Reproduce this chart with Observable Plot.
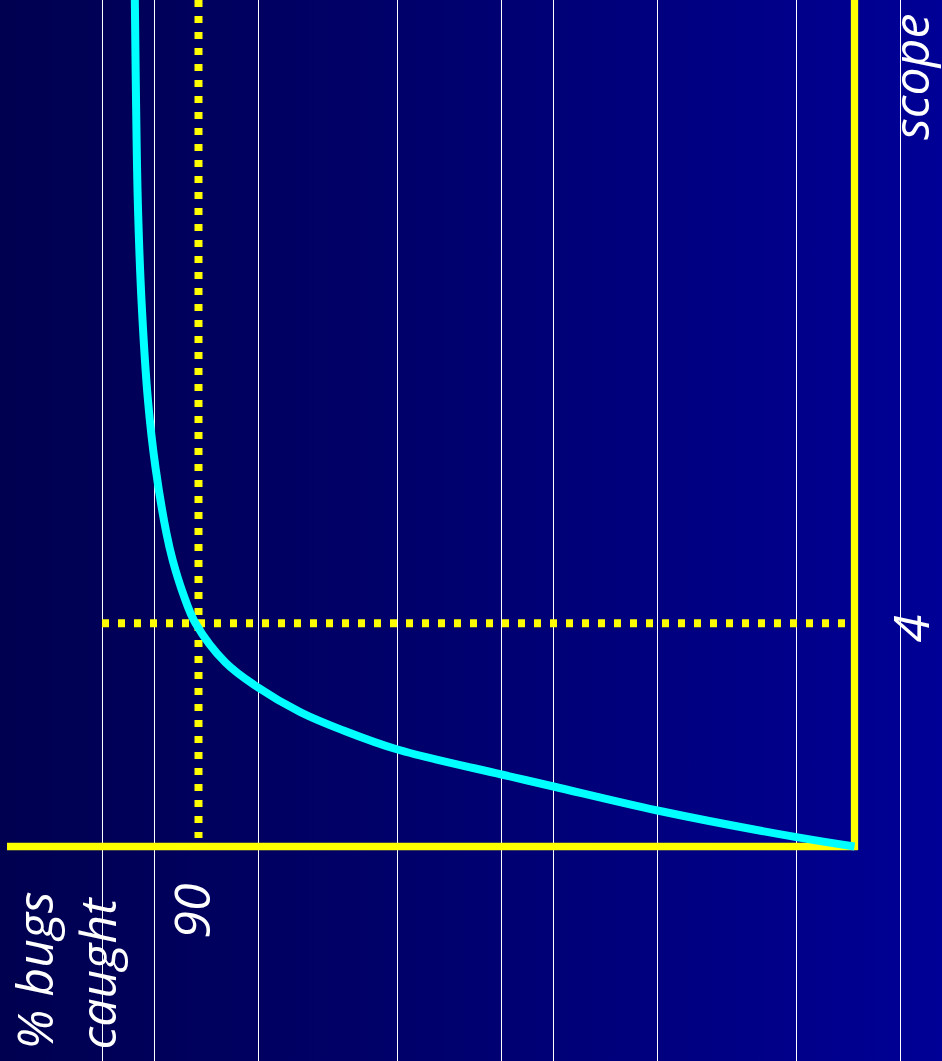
<!DOCTYPE html>
<html>
<head>
<meta charset="utf-8">
<script src="https://cdn.jsdelivr.net/npm/d3@7"></script>
<script src="https://cdn.jsdelivr.net/npm/@observablehq/plot@0.6"></script>
<style>
  html, body { margin: 0; padding: 0; background: #000050; }
  #chart { width: 942px; height: 1061px; }
</style>
</head>
<body>
<div id="chart"></div>
<script>
// Curve: scope (vertical, increasing upward) vs % bugs caught (horizontal, increasing leftward)
const scopeValues   = [0, 0.167, 0.645, 1.075, 1.290, 1.737, 2.078, 2.405, 2.866, 3.296, 4.0, 4.526, 5.123, 5.606, 6.788, 7.989, 9.780, 11.571, 13.362, 15.24];
const percentValues = [0, 7.96, 27.03, 41.30, 48.43, 62.70, 70.11, 76.0, 82.04, 86.30, 90.41, 92.10, 93.53, 94.39, 95.90, 96.93, 97.82, 98.33, 98.57, 98.74];

// Background slide grid lines (in % units)
const gridPercents = [103.171, 96.037, 81.768, 62.698, 48.430, 41.296, 27.027, 7.957, -6.311];

// Highlighted reference values
const highlightPercent = 90;
const highlightScope = 4;

// Text
const percentAxisLabel = ["% bugs", "caught"];
const scopeAxisLabel = "scope";
const percentTickLabel = "90";
const scopeTickLabel = "4";

const curve = scopeValues.map((s, i) => ({scope: s, percent: percentValues[i]}));

const font = "'Open Sans', 'DejaVu Sans', sans-serif";
const textStyle = {rotate: -90, fill: "white", fontSize: 50, fontStyle: "italic", fontFamily: font};

const chart = Plot.plot({
  width: 942,
  height: 1061,
  margin: 0,
  style: {background: "linear-gradient(to right, #000050 0%, #00006c 45%, #000096 100%)", overflow: "visible"},
  x: {type: "linear", domain: [0, 90], range: [854, 198], axis: null},
  y: {type: "linear", domain: [0, 4], range: [846, 622.7], axis: null},
  marks: [
    Plot.ruleX(gridPercents, {stroke: "white", strokeWidth: 1}),
    // dotted reference lines
    Plot.ruleX([highlightPercent], {y1: 15.153, y2: 0.143, stroke: "#ffff00", strokeWidth: 8, strokeDasharray: "7,9", strokeLinecap: "butt"}),
    Plot.ruleY([highlightScope], {x1: 103.17, x2: 1.1, stroke: "#ffff00", strokeWidth: 8, strokeDasharray: "7,9", strokeLinecap: "butt"}),
    // axes
    Plot.ruleX([0], {y1: -0.07, y2: 15.4, stroke: "#ffff00", strokeWidth: 7.3, strokeLinecap: "butt"}),
    Plot.ruleY([0], {x1: 116.2, x2: -0.5, stroke: "#ffff00", strokeWidth: 7.3, strokeLinecap: "butt"}),
    // curve
    Plot.line(curve, {x: "percent", y: "scope", curve: "catmull-rom", stroke: "#00ffff", strokeWidth: 8, strokeLinecap: "butt", strokeLinejoin: "round"}),
    // labels
    Plot.text([percentAxisLabel.join("\n")], {x: 108.45, y: -3.636, text: d => d, textAnchor: "start", lineAnchor: "middle", lineHeight: 1.26, ...textStyle}),
    Plot.text([percentTickLabel], {x: 90.55, y: -1.648, text: d => d, textAnchor: "start", lineAnchor: "middle", ...textStyle}),
    Plot.text([scopeTickLabel], {x: -7.96, y: 3.905, text: d => d, textAnchor: "middle", lineAnchor: "middle", ...textStyle}),
    Plot.text([scopeAxisLabel], {x: -7.96, y: 12.66, text: d => d, textAnchor: "start", lineAnchor: "middle", ...textStyle})
  ]
});

document.getElementById("chart").appendChild(chart);
</script>
</body>
</html>
